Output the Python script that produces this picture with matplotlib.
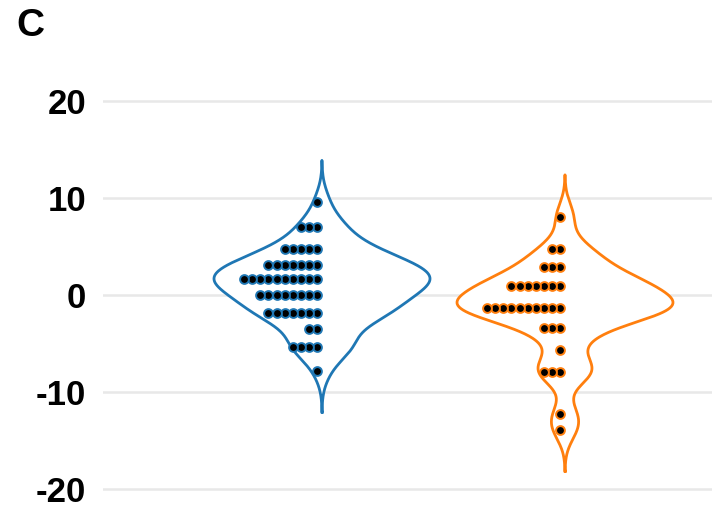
import numpy as np
import matplotlib
matplotlib.use("Agg")
import matplotlib.pyplot as plt

# Binned sample values (bin centre, number of points in bin) for each group
blue_bins = [9.6, 7.0, 4.7, 3.1, 1.7, 0.0, -1.9, -3.5, -5.4, -7.8]
blue_counts = [1, 3, 5, 7, 10, 8, 7, 2, 4, 1]
orange_bins = [8.1, 4.7, 2.9, 0.9, -1.3, -3.4, -5.7, -7.9, -12.3, -13.9]
orange_counts = [1, 2, 3, 7, 10, 3, 1, 3, 1, 1]

y_ticks = [-20, -10, 0, 10, 20]
panel_label = "C"

colors = ["#1f77b4", "#ff7f0e"]
groups = [(blue_bins, blue_counts), (orange_bins, orange_counts)]

plt.rcParams["font.family"] = ["Liberation Sans", "DejaVu Sans"]
plt.rcParams["font.weight"] = "bold"

W, H = 719, 511
fig = plt.figure(figsize=(W / 100, H / 100), dpi=100)
ax_left, ax_right = 103, 712
ax_top, ax_bottom = 80, 505
ax = fig.add_axes([ax_left / W, 1 - ax_bottom / H,
                   (ax_right - ax_left) / W, (ax_bottom - ax_top) / H])

px_per_unit_y = (488.7 - 101.3) / 40.0
y0_px = 295.0
ax.set_ylim(-(ax_bottom - y0_px) / px_per_unit_y, (y0_px - ax_top) / px_per_unit_y)
px_per_unit_x = 243.0
x0_px = 322.0
ax.set_xlim(-(x0_px - ax_left) / px_per_unit_x, (ax_right - x0_px) / px_per_unit_x)


def kde(samples, grid, bw):
    d = (grid[:, None] - samples[None, :]) / bw
    return np.exp(-0.5 * d ** 2).sum(axis=1) / (len(samples) * bw * np.sqrt(2 * np.pi))


half_width = 108.0 / px_per_unit_x
dot_step = 8.1 / px_per_unit_x
dot_gap = 5.0 / px_per_unit_x
bandwidth = 1.45
cut = 4.3

for i, ((bins, counts), col) in enumerate(zip(groups, colors)):
    samples = np.repeat(np.array(bins, float), counts)
    grid = np.linspace(samples.min() - cut, samples.max() + cut, 400)
    dens = kde(samples, grid, bandwidth)
    dens = dens / dens.max() * half_width
    xs = np.concatenate([i + dens, (i - dens)[::-1], [i + dens[0]]])
    ys = np.concatenate([grid, grid[::-1], [grid[0]]])
    ax.fill(xs, ys, color="white", zorder=2)
    ax.plot(xs, ys, color=col, lw=2.0, zorder=3, solid_joinstyle="round")
    for b, c in zip(bins, counts):
        dx = i - dot_gap - np.arange(c) * dot_step
        ax.scatter(dx, np.full(c, b), s=40, facecolor="black",
                   edgecolor=col, linewidth=1.4, zorder=4)

ax.set_yticks(y_ticks)
ax.set_yticklabels([str(t) for t in y_ticks], fontsize=25, fontweight="bold")
ax.set_xticks([])
ax.tick_params(axis="y", length=0, pad=12)
ax.grid(axis="y", color="#e8e8e8", lw=1.8, zorder=0)
ax.set_axisbelow(True)
for s in ax.spines.values():
    s.set_visible(False)

fig.text(16 / W, 1 - 36.5 / H, panel_label, fontsize=28, fontweight="bold",
         ha="left", va="baseline")

fig.savefig("out.png", dpi=100, facecolor="white")
